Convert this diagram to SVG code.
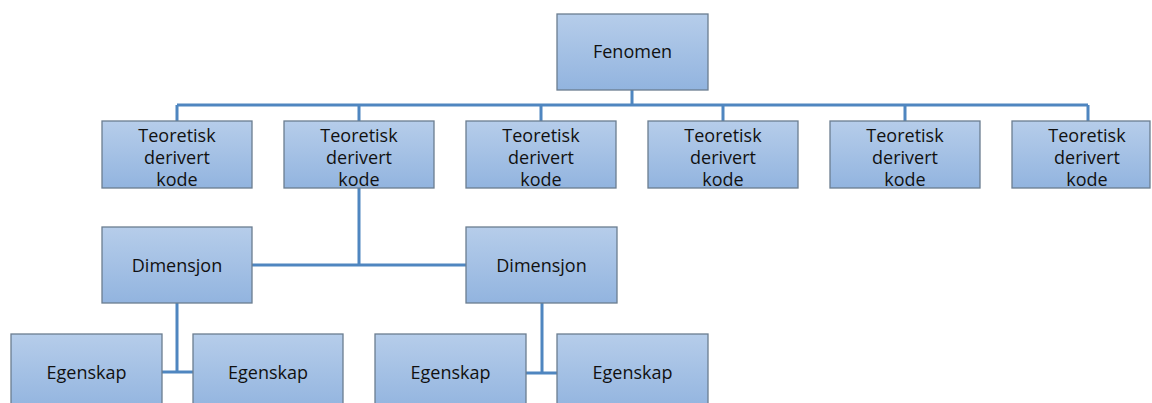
<svg xmlns="http://www.w3.org/2000/svg" width="1152" height="403" viewBox="0 0 1152 403">
<defs>
<linearGradient id="g" x1="0" y1="0" x2="0" y2="1">
<stop offset="0" stop-color="#b6cdea"/>
<stop offset="1" stop-color="#92b4df"/>
</linearGradient>
<style>
.box{fill:url(#g);stroke:#6b7d90;stroke-width:1.3}
.t{font-family:"Open Sans","Liberation Sans",sans-serif;font-size:18px;fill:#111;text-anchor:middle}
.c{fill:none;stroke:#4f86c0;stroke-width:3}
</style>
</defs>
<rect width="1152" height="403" fill="#ffffff"/>
<g id="connectors">
<path class="c" d="M632 90V105M177 105H1088M177 105V121M359 105V121M541 105V121M723 105V121M905 105V121M1088 105V121"/>
<path class="c" d="M359 188V265M252 265H466"/>
<path class="c" d="M177 303V372M162 372H193"/>
<path class="c" d="M542 303V373M526 373H557"/>
</g>
<g id="fenomen"><rect class="box" x="557" y="14" width="151" height="76"/><text class="t" x="632.5" y="58">Fenomen</text></g>
<g id="kode1"><rect class="box" x="102" y="121" width="150" height="67"/><text class="t" x="177" y="142">Teoretisk</text><text class="t" x="177" y="164">derivert</text><text class="t" x="177" y="186">kode</text></g>
<g id="kode2"><rect class="box" x="284" y="121" width="150" height="67"/><text class="t" x="359" y="142">Teoretisk</text><text class="t" x="359" y="164">derivert</text><text class="t" x="359" y="186">kode</text></g>
<g id="kode3"><rect class="box" x="466" y="121" width="150" height="67"/><text class="t" x="541" y="142">Teoretisk</text><text class="t" x="541" y="164">derivert</text><text class="t" x="541" y="186">kode</text></g>
<g id="kode4"><rect class="box" x="648" y="121" width="150" height="67"/><text class="t" x="723" y="142">Teoretisk</text><text class="t" x="723" y="164">derivert</text><text class="t" x="723" y="186">kode</text></g>
<g id="kode5"><rect class="box" x="830" y="121" width="150" height="67"/><text class="t" x="905" y="142">Teoretisk</text><text class="t" x="905" y="164">derivert</text><text class="t" x="905" y="186">kode</text></g>
<g id="kode6"><rect class="box" x="1012" y="121" width="138" height="67"/><text class="t" x="1087" y="142">Teoretisk</text><text class="t" x="1087" y="164">derivert</text><text class="t" x="1087" y="186">kode</text></g>
<g id="dim1"><rect class="box" x="102" y="227" width="150" height="76"/><text class="t" x="177" y="272">Dimensjon</text></g>
<g id="dim2"><rect class="box" x="466" y="227" width="151" height="76"/><text class="t" x="541.5" y="272">Dimensjon</text></g>
<g id="eg1"><rect class="box" x="11" y="334" width="151" height="76"/><text class="t" x="86.5" y="379">Egenskap</text></g>
<g id="eg2"><rect class="box" x="193" y="334" width="150" height="76"/><text class="t" x="268" y="379">Egenskap</text></g>
<g id="eg3"><rect class="box" x="375" y="334" width="151" height="76"/><text class="t" x="450.5" y="379">Egenskap</text></g>
<g id="eg4"><rect class="box" x="557" y="334" width="151" height="76"/><text class="t" x="632.5" y="379">Egenskap</text></g>
</svg>
